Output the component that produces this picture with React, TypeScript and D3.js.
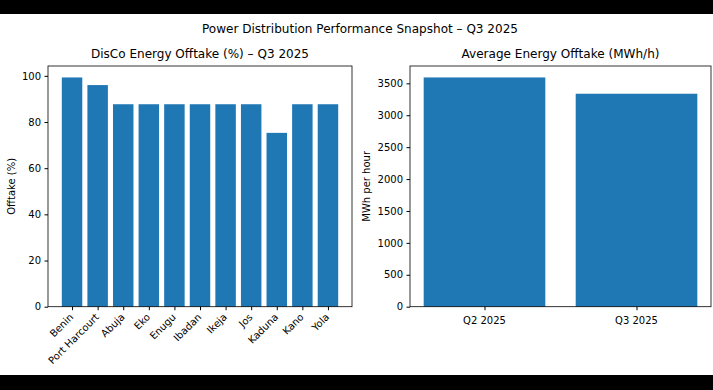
import React, { useEffect, useRef } from "react";
import * as d3 from "d3";

// DisCo offtake (%) for Q3 2025
const discos = ["Benin", "Port Harcourt", "Abuja", "Eko", "Enugu", "Ibadan", "Ikeja", "Jos", "Kaduna", "Kano", "Yola"];
const offtake = [99.3, 96.0, 87.7, 87.7, 87.7, 87.7, 87.7, 87.7, 75.3, 87.7, 87.7];
const offtakeTicks = [0, 20, 40, 60, 80, 100];

// average energy offtake per hour
const quarters = ["Q2 2025", "Q3 2025"];
const avgOfftake = [3592, 3337];
const avgTicks = [0, 500, 1000, 1500, 2000, 2500, 3000, 3500];

const BLUE = "#1f77b4";
const FONT = "DejaVu Sans, sans-serif";

const App = () => {
  const ref = useRef<SVGSVGElement>(null);

  const drawChart = () => {
    const svg = d3.select(ref.current);
    svg.selectAll("*").remove();

    const width = 713;
    const height = 390;

    svg.append("rect").attr("width", width).attr("height", height).attr("fill", "#fff");
    // black letterbox bars
    svg.append("rect").attr("x", 0).attr("y", 0).attr("width", width).attr("height", 14).attr("fill", "#000");
    svg.append("rect").attr("x", 0).attr("y", 375).attr("width", width).attr("height", 15).attr("fill", "#000");

    svg.append("text")
      .attr("x", 360).attr("y", 33)
      .attr("text-anchor", "middle")
      .attr("font-family", FONT).attr("font-size", 12)
      .attr("textLength", 316).attr("lengthAdjust", "spacingAndGlyphs")
      .text("Power Distribution Performance Snapshot – Q3 2025");

    const top = 66;
    const bottom = 306.7;

    // helper that draws one bar panel
    const panel = (
      left: number, right: number, cats: string[], vals: number[], ticks: number[],
      title: string, titleLen: number, ylabel: string, ylabelX: number, rotateLabels: boolean
    ) => {
      const n = cats.length;
      const pad = (n - 1 + 0.8) * 0.05;
      const x = d3.scaleLinear().domain([-0.4 - pad, n - 1 + 0.4 + pad]).range([left, right]);
      const y = d3.scaleLinear().domain([0, d3.max(vals)! * 1.05]).range([bottom, top]);

      const g = svg.append("g");

      g.selectAll(".bar")
        .data(vals)
        .join("rect")
        .attr("x", (d, i) => x(i - 0.4))
        .attr("width", x(0.8) - x(0))
        .attr("y", (d) => y(d))
        .attr("height", (d) => y(0) - y(d))
        .attr("fill", BLUE);

      // y axis
      const yAxis = d3.axisLeft(y).tickValues(ticks).tickSize(3.5).tickPadding(3.5).tickFormat(d3.format("d"));
      const ya = g.append("g").attr("transform", `translate(${left},0)`).call(yAxis);
      ya.select(".domain").remove();
      ya.selectAll("text").attr("font-family", FONT).attr("font-size", 10).attr("fill", "#000");

      // x axis
      const xAxis = d3.axisBottom(x).tickValues(d3.range(n)).tickSize(3.5).tickFormat(() => "");
      const xa = g.append("g").attr("transform", `translate(0,${bottom})`).call(xAxis);
      xa.select(".domain").remove();

      const labels = g.selectAll(".xl")
        .data(cats)
        .join("text")
        .attr("font-family", FONT).attr("font-size", 10)
        .text((d) => d);
      if (rotateLabels) {
        labels
          .attr("text-anchor", "end")
          .attr("transform", (d, i) => `translate(${x(i) + 2},${bottom + 11}) rotate(-45)`);
      } else {
        labels
          .attr("text-anchor", "middle")
          .attr("x", (d, i) => x(i))
          .attr("y", bottom + 17);
      }

      // frame
      g.append("rect")
        .attr("x", left).attr("y", top)
        .attr("width", right - left).attr("height", bottom - top)
        .attr("fill", "none").attr("stroke", "#000").attr("stroke-width", 0.8);

      g.append("text")
        .attr("x", (left + right) / 2).attr("y", 58)
        .attr("text-anchor", "middle")
        .attr("font-family", FONT).attr("font-size", 12)
        .attr("textLength", titleLen).attr("lengthAdjust", "spacingAndGlyphs")
        .text(title);

      g.append("text")
        .attr("transform", `translate(${ylabelX},${(top + bottom) / 2}) rotate(-90)`)
        .attr("text-anchor", "middle")
        .attr("font-family", FONT).attr("font-size", 10)
        .text(ylabel);
    };

    panel(48, 352, discos, offtake, offtakeTicks, "DisCo Energy Offtake (%) – Q3 2025", 218, "Offtake (%)", 15, true);
    panel(410, 711, quarters, avgOfftake, avgTicks, "Average Energy Offtake (MWh/h)", 198, "MWh per hour", 370, false);
  };

  useEffect(() => {
    drawChart();
  }, []);

  return (
    <svg
      ref={ref}
      width={713}
      height={390}
      style={{ position: "absolute", left: 0, top: 0, display: "block" }}
    ></svg>
  );
};

export default App;
